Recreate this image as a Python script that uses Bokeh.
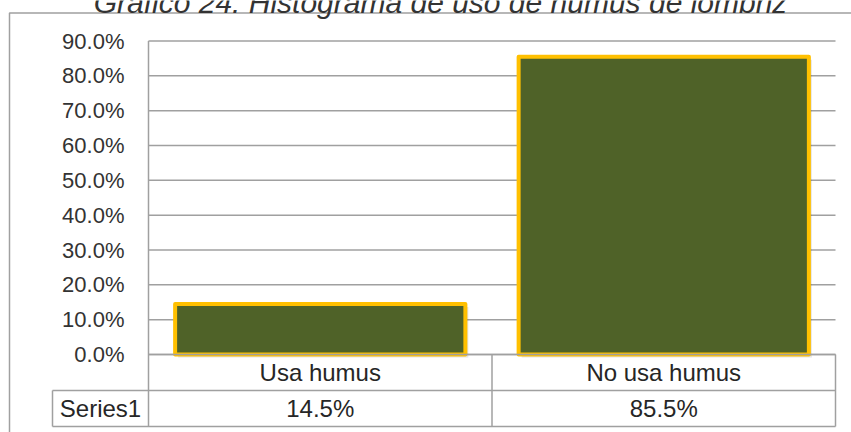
from bokeh.plotting import figure
from bokeh.models import Range1d, ColumnDataSource
from bokeh.core.properties import value
from bokeh.embed import file_html
from bokeh.resources import INLINE

# ---------------- data ----------------
title_text = "Gráfico 24: Histograma de uso de humus de lombriz"
categories = ["Usa humus", "No usa humus"]
series_name = "Series1"
values = [0.145, 0.855]
tick_values = [0.0, 0.1, 0.2, 0.3, 0.4, 0.5, 0.6, 0.7, 0.8, 0.9]
tick_labels = ["0.0%", "10.0%", "20.0%", "30.0%", "40.0%", "50.0%",
               "60.0%", "70.0%", "80.0%", "90.0%"]

# ---------------- layout (pixels) ----------------
W, H = 851, 432
plot_left_px, plot_right_px = 148, 835
zero_px, top_px = 354, 40.5
y_max = 0.9
n = len(categories)
px_x = (plot_right_px - plot_left_px) / n          # px per category
px_y = (zero_px - top_px) / y_max                  # px per unit value

x_start = -0.5 - plot_left_px / px_x
x_end = (n - 0.5) + (W - plot_right_px) / px_x
y_end = y_max + top_px / px_y
y_start = -(H - zero_px) / px_y

def dx(px):  # pixel x -> data x
    return x_start + px / px_x

def dy(px):  # pixel y (from top) -> data y
    return y_end - px / px_y

FONT = value("Liberation Sans")
GRID = "#a0a0a0"

p = figure(width=W, height=H, output_backend="svg", toolbar_location=None,
           x_range=Range1d(x_start, x_end), y_range=Range1d(y_start, y_end),
           x_axis_location=None, y_axis_location=None, min_border=0,
           outline_line_color=None, background_fill_color="white",
           border_fill_color="white")
p.xgrid.visible = False
p.ygrid.visible = False

xs = list(range(n))
left_edge = -0.5
right_edge = n - 0.5

# outer chart border
p.quad(left=[dx(9)], right=[dx(W + 20)], top=[dy(12.5)], bottom=[dy(H + 20)],
       fill_color=None, line_color=GRID, line_width=1.5)

# gridlines
p.segment(x0=[left_edge] * len(tick_values), x1=[right_edge] * len(tick_values),
          y0=tick_values, y1=tick_values, line_color=GRID, line_width=1.5)

# tick labels
p.text(x=[dx(124)] * len(tick_values), y=tick_values, text=tick_labels,
       text_font=FONT, text_font_size="22px", text_color="#333333",
       text_align="right", text_baseline="middle")

# bars: shadow + bar
bw = 0.845
src = ColumnDataSource(dict(x=xs, top=values))
p.vbar(x=[x + 3 / px_x for x in xs], width=bw, bottom=-3 / px_y,
       top=[v - 3 / px_y for v in values], fill_color="#000000", fill_alpha=0.10,
       line_color=None)
p.vbar(x="x", top="top", bottom=0, width=bw, source=src,
       fill_color="#4F6228", line_color="#FFC000", line_width=4,
       line_join="round")

# data table
row1 = dy(390)
row2 = dy(426)
series_left = dx(52)
p.segment(x0=[left_edge, series_left, series_left],
          x1=[right_edge, right_edge, right_edge],
          y0=[0, row1, row2], y1=[0, row1, row2],
          line_color=GRID, line_width=1.5)
p.segment(x0=[left_edge, 0.5, right_edge, series_left],
          x1=[left_edge, 0.5, right_edge, series_left],
          y0=[y_max, 0, 0, row1], y1=[row2, row2, row2, row2],
          line_color=GRID, line_width=1.5)

p.text(x=xs, y=[dy(371.5)] * n, text=categories, text_font=FONT,
       text_font_size="24px", text_color="#262626", text_align="center",
       text_baseline="middle")
p.text(x=xs, y=[dy(408)] * n, text=[f"{v * 100:.1f}%" for v in values],
       text_font=FONT, text_font_size="24px", text_color="#262626",
       text_align="center", text_baseline="middle")
p.text(x=[(series_left + left_edge) / 2], y=[dy(408)], text=[series_name],
       text_font=FONT, text_font_size="24px", text_color="#262626",
       text_align="center", text_baseline="middle")

# title (top cut off, as in the reference)
p.text(x=[dx(440)], y=[dy(2)], text=[title_text], text_font=FONT,
       text_font_style="italic", text_font_size="30px", text_color="#333333",
       text_align="center", text_baseline="middle")

open("out.html", "w").write(file_html(p, INLINE))
